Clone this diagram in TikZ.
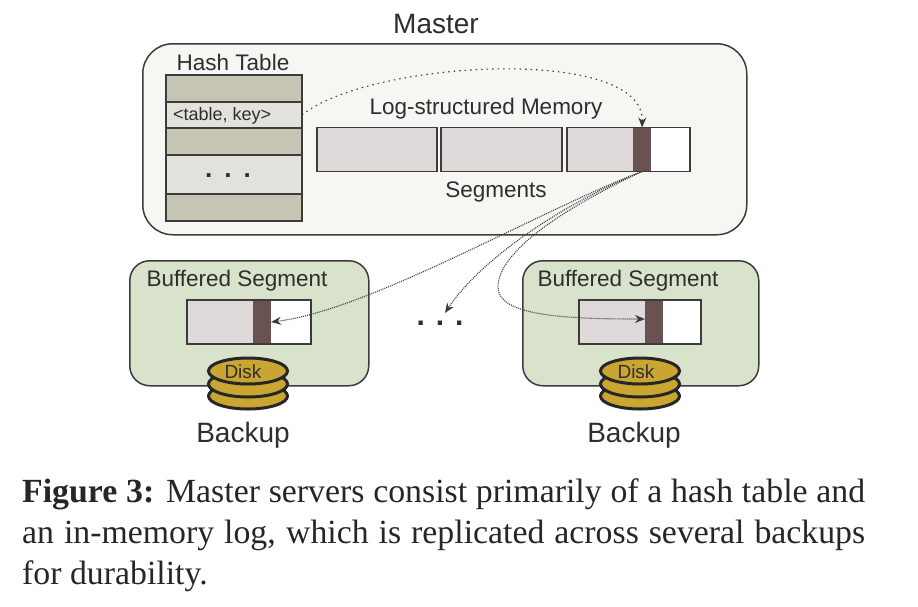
\documentclass[tikz,border=0pt]{standalone}
\usepackage{fontspec}
\setmainfont{Liberation Sans}
\newfontfamily\capfont{Liberation Serif}
\usetikzlibrary{positioning}
\usetikzlibrary{shapes.geometric}
\usetikzlibrary{arrows.meta}
\definecolor{linegray}{HTML}{3C3C3C}
\definecolor{textgray}{HTML}{2E2E2E}
\definecolor{masterfill}{HTML}{F6F7F2}
\definecolor{rowdark}{HTML}{C6C4B3}
\definecolor{rowlight}{HTML}{E2E1DC}
\definecolor{segfill}{HTML}{E0D9D9}
\definecolor{headfill}{HTML}{6B5252}
\definecolor{backupfill}{HTML}{D9E2CB}
\definecolor{diskfill}{HTML}{C9A632}
\tikzset{
    lbl/.style={text=textgray, inner sep=0pt, font=\fontsize{22.5}{24}\selectfont},
    biglbl/.style={text=textgray, inner sep=0pt, font=\fontsize{28}{30}\selectfont},
    serverbox/.style={rectangle, rounded corners=#1, draw=linegray, line width=1.5pt, anchor=north west, inner sep=0pt},
    hashrow/.style={rectangle, draw=linegray, line width=1.5pt, minimum width=136pt, inner sep=0pt, outer sep=0pt, anchor=north},
    logseg/.style={rectangle, draw=linegray, line width=1.5pt, fill=segfill, minimum height=44pt, inner sep=0pt, outer sep=0pt},
    headseg/.style={logseg, draw=none, fill=headfill, minimum width=18pt},
    diskpart/.style={ellipse, draw=black!85, line width=3pt, fill=diskfill, minimum width=79pt, minimum height=26pt, inner sep=0pt},
    conn/.style={-{Stealth[length=10pt, width=8pt]}, line width=1.1pt, draw=linegray},
}
\begin{document}
\begin{tikzpicture}[x=1pt, y=-1pt]
    \useasboundingbox (0,0) rectangle (918,606);

    % master
    \node[serverbox=30pt, fill=masterfill, minimum width=604pt, minimum height=191pt](master) at (142,43) {};
    \node[biglbl](mastername) at (436,24) {Master};

    \node[lbl](hashname) at (233,62) {Hash Table};
    \node[hashrow, fill=rowdark, minimum height=27pt](row1) at (234,75) {};
    \node[hashrow, fill=rowlight, minimum height=26pt, below=0pt of row1](rowkey) {};
    \node[hashrow, fill=rowdark, minimum height=27pt, below=0pt of rowkey](row3) {};
    \node[hashrow, fill=rowlight, minimum height=39pt, below=0pt of row3](rowdots) {};
    \node[hashrow, fill=rowdark, minimum height=27pt, below=0pt of rowdots](row5) {};
    \node[text=textgray, inner sep=0pt, font=\fontsize{18}{20}\selectfont, anchor=west] (keytext) at (173,116) {<table, key>};
    \node[biglbl, font=\fontsize{26}{30}\selectfont\bfseries] (tabledots) at (228,176) {.\hspace{12pt}.\hspace{12pt}.};

    \node[lbl](logname) at (486,109) {Log-structured Memory};
    \node[logseg, minimum width=120pt, anchor=north west](seg1) at (317,127.5) {};
    \node[logseg, minimum width=121pt, right=4pt of seg1](seg2) {};
    \node[logseg, minimum width=123pt, right=5pt of seg2](seg3) {};
    \node[headseg](loghead) at (642,149.5) {};
    \node[rectangle, fill=white, minimum width=38pt, minimum height=42.5pt, inner sep=0pt, outer sep=0pt, right=0pt of loghead](logfree) {};
    \draw[draw=linegray, line width=1.5pt] (seg3.north west) rectangle (seg3.south east);
    \node[lbl](segname) at (496,192) {Segments};

    % left backup
    \node[serverbox=20pt, fill=backupfill, minimum width=239pt, minimum height=125pt](backupa) at (129,260) {};
    \node[lbl](bufnamea) at (237,281) {Buffered Segment};
    \node[logseg, minimum width=124pt, anchor=north west](bufa) at (187,300) {};
    \node[headseg, minimum height=42.5pt](bufheada) at (262,322) {};
    \node[rectangle, fill=white, minimum width=39pt, minimum height=42.5pt, inner sep=0pt, outer sep=0pt, right=0pt of bufheada](buffreea) {};
    \draw[draw=linegray, line width=1.5pt] (bufa.north west) rectangle (bufa.south east);
    \node[diskpart](diska3) at (248,396) {};
    \node[diskpart](diska2) at (248,384) {};
    \node[diskpart](diska1) at (248,371) {};
    \node[lbl, font=\fontsize{19}{20}\selectfont](disknamea) at (243,372) {Disk};
    \node[biglbl](backupnamea) at (243,435) {Backup};

    % dots between the backups
    \node[biglbl, font=\fontsize{30}{30}\selectfont\bfseries](backupdots) at (440,323) {.\hspace{11pt}.\hspace{11pt}.};
    \coordinate (dotstip) at (445,313);

    % right backup
    \node[serverbox=20pt, fill=backupfill, minimum width=236pt, minimum height=125pt](backupb) at (522,260) {};
    \node[lbl](bufnameb) at (628,281) {Buffered Segment};
    \node[logseg, minimum width=122pt, anchor=north west](bufb) at (579,300) {};
    \node[headseg, minimum height=42.5pt](bufheadb) at (654,322) {};
    \node[rectangle, fill=white, minimum width=38pt, minimum height=42.5pt, inner sep=0pt, outer sep=0pt, right=0pt of bufheadb](buffreeb) {};
    \draw[draw=linegray, line width=1.5pt] (bufb.north west) rectangle (bufb.south east);
    \node[diskpart](diskb3) at (640,396) {};
    \node[diskpart](diskb2) at (640,384) {};
    \node[diskpart](diskb1) at (640,371) {};
    \node[lbl, font=\fontsize{19}{20}\selectfont](disknameb) at (636,372) {Disk};
    \node[biglbl](backupnameb) at (634,435) {Backup};

    \draw[conn, dash pattern=on 1.5pt off 4pt] (rowkey.east) .. controls (370,60) and (645,45) .. (loghead.north);
    \draw[conn, dash pattern=on 1pt off 1pt] (loghead.south) .. controls (540,210) and (370,310) .. (bufheada.east);
    \draw[conn, dash pattern=on 1pt off 1pt] (loghead.south) .. controls (560,205) and (480,260) .. (dotstip);
    \draw[conn, dash pattern=on 1pt off 1pt] (loghead.south) .. controls (570,205) and (498,250) .. (498,287) .. controls (498,315) and (560,319) .. ([yshift=3pt]bufheadb.west);

    % caption
    \node[anchor=north west, inner sep=0pt, text width=843pt, align=justify, text=black!85, font=\capfont\fontsize{33.8}{41}\selectfont](caption) at (22,478) {\textbf{Figure 3:} Master servers consist primarily of a hash table and an in-memory log, which is replicated across several backups for durability.};
\end{tikzpicture}
\end{document}
